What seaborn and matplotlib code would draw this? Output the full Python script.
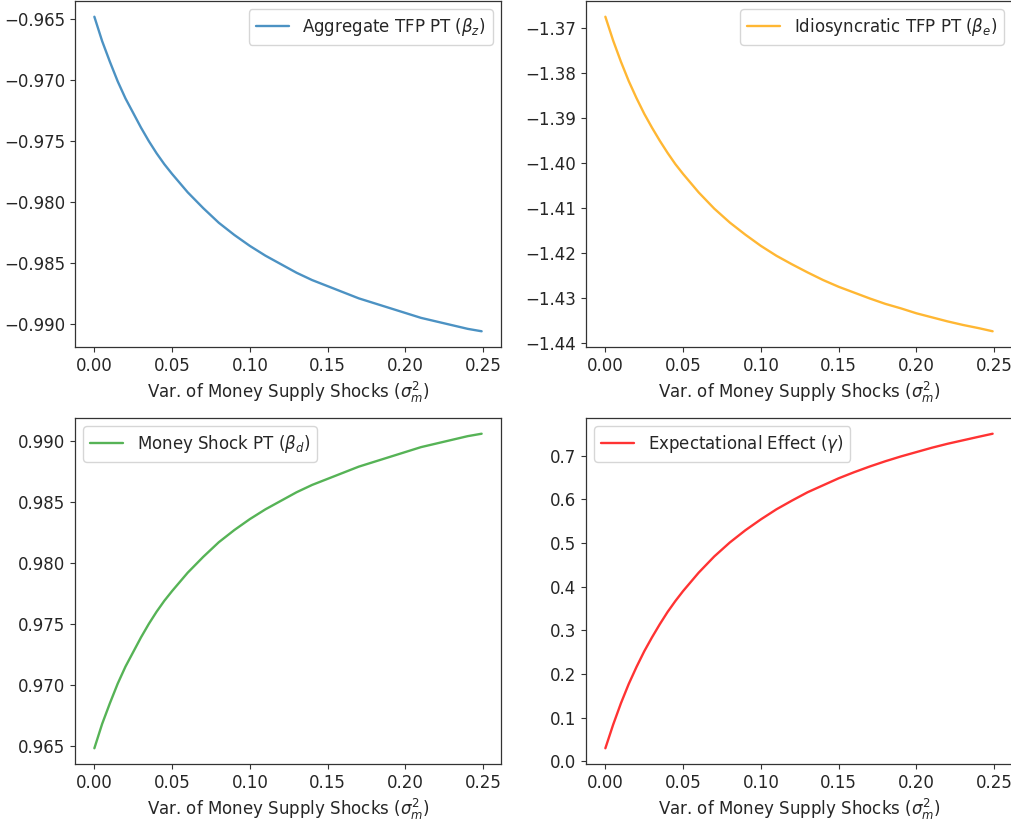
import matplotlib
matplotlib.use("Agg")
import matplotlib.pyplot as plt
import seaborn as sns
import pandas as pd

# Variance of money supply shocks (sigma_m^2)
sigma_m2 = [0.000, 0.005, 0.010, 0.015, 0.020, 0.025, 0.030, 0.035, 0.040,
            0.045, 0.05, 0.06, 0.07, 0.08, 0.09,
            0.10, 0.11, 0.12, 0.13, 0.14, 0.15, 0.16, 0.17, 0.18, 0.19,
            0.20, 0.21, 0.22, 0.23, 0.24, 0.249]

# Aggregate TFP pass-through
beta_z = [-0.9648, -0.9668, -0.9685, -0.9701, -0.9715, -0.9727, -0.9739,
          -0.9750, -0.9760, -0.9769, -0.9777, -0.9792,
          -0.9805, -0.9817, -0.9827, -0.9836, -0.9844, -0.9851, -0.9858,
          -0.9864, -0.9869, -0.9874, -0.9879, -0.9883, -0.9887, -0.9891,
          -0.9895, -0.9898, -0.9901, -0.9904, -0.9906]

# Idiosyncratic TFP pass-through
beta_e = [-1.3675, -1.3728, -1.3775, -1.3818, -1.3856, -1.3891, -1.3922,
          -1.3951, -1.3978, -1.4003, -1.4025, -1.4066,
          -1.4102, -1.4133, -1.4160, -1.4185, -1.4207, -1.4226, -1.4244,
          -1.4261, -1.4276, -1.4289, -1.4302, -1.4314, -1.4324, -1.4335,
          -1.4344, -1.4353, -1.4361, -1.4368, -1.4375]

# Money shock pass-through
beta_d = [0.9648, 0.9668, 0.9685, 0.9701, 0.9715, 0.9727, 0.9739,
          0.9750, 0.9760, 0.9769, 0.9777, 0.9792,
          0.9805, 0.9817, 0.9827, 0.9836, 0.9844, 0.9851, 0.9858,
          0.9864, 0.9869, 0.9874, 0.9879, 0.9883, 0.9887, 0.9891,
          0.9895, 0.9898, 0.9901, 0.9904, 0.9906]

# Expectational effect
gamma = [0.030, 0.084, 0.133, 0.177, 0.216, 0.252, 0.284, 0.314, 0.342,
         0.367, 0.390, 0.432, 0.469, 0.501,
         0.529, 0.554, 0.577, 0.597, 0.616, 0.632, 0.648, 0.662, 0.675,
         0.687, 0.698, 0.708, 0.718, 0.727, 0.735, 0.743, 0.750]

labels = [r"Aggregate TFP PT ($\beta_z$)",
          r"Idiosyncratic TFP PT ($\beta_e$)",
          r"Money Shock PT ($\beta_d$)",
          r"Expectational Effect ($\gamma$)"]
series = [beta_z, beta_e, beta_d, gamma]
colors = ["#1f77b4", "orange", "#2ca02c", "red"]
legend_locs = ["upper right", "upper right", "upper left", "upper left"]
xlabel = r"Var. of Money Supply Shocks ($\sigma_m^2$)"

FS = 12

sns.set_style("ticks")
plt.rcParams["font.family"] = ["DejaVu Sans"]
plt.rcParams["font.size"] = FS
plt.rcParams["mathtext.fontset"] = "dejavusans"

W, H = 1012, 821
fig = plt.figure(figsize=(W / 100, H / 100), dpi=100)

# axes boxes in pixels: (left, top, width, height)
boxes = [(75, 1, 426, 346), (586, 1, 426, 346),
         (75, 418, 426, 346), (586, 418, 426, 346)]

for box, vals, lab, col, loc in zip(boxes, series, labels, colors, legend_locs):
    l, t, w, h = box
    ax = fig.add_axes([l / W, (H - t - h) / H, w / W, h / H])
    df = pd.DataFrame({"x": sigma_m2, "y": vals})
    sns.lineplot(data=df, x="x", y="y", ax=ax, color=col, alpha=0.8,
                 linewidth=1.7, label=lab)
    ax.set_xlabel(xlabel, fontsize=FS)
    ax.set_ylabel("")
    ax.set_xticks([0.0, 0.05, 0.10, 0.15, 0.20, 0.25])
    ax.tick_params(labelsize=FS, color="#333333")
    for s in ax.spines.values():
        s.set_color("#333333")
        s.set_linewidth(0.9)
    ax.legend(loc=loc, fontsize=FS, frameon=True)

fig.savefig("out.png", dpi=100)
